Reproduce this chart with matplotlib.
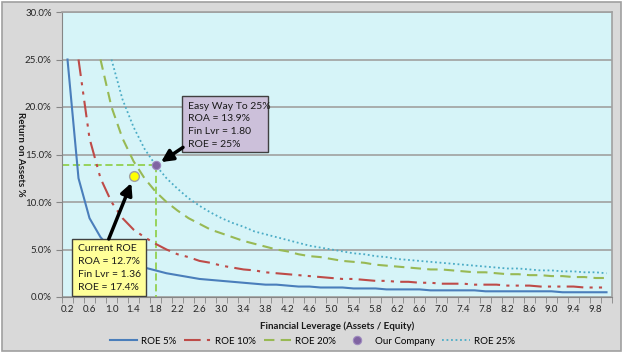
import numpy as np
import matplotlib
matplotlib.use("Agg")
from matplotlib import pyplot as plt
from matplotlib.patches import Rectangle

plt.rcParams['font.family'] = ['Lato', 'DejaVu Sans']

# leverage categories 0.2 .. 10.0
leverage = [round(0.2 * k, 1) for k in range(1, 51)]
tick_labels = ["%.1f" % v for v in leverage[::2]]

nan = np.nan
roe5 = [25.0, 12.5, 8.3, 6.3, 5.0, 4.2, 3.6, 3.1, 2.8, 2.5,
        2.3, 2.1, 1.9, 1.8, 1.7, 1.6, 1.5, 1.4, 1.3, 1.3,
        1.2, 1.1, 1.1, 1.0, 1.0, 1.0, 0.9, 0.9, 0.9, 0.8,
        0.8, 0.8, 0.8, 0.7, 0.7, 0.7, 0.7, 0.7, 0.6, 0.6,
        0.6, 0.6, 0.6, 0.6, 0.6, 0.5, 0.5, 0.5, 0.5, 0.5]
roe10 = [nan, 25.0, 16.7, 12.5, 10.0, 8.3, 7.1, 6.3, 5.6, 5.0,
         4.5, 4.2, 3.8, 3.6, 3.3, 3.1, 2.9, 2.8, 2.6, 2.5,
         2.4, 2.3, 2.2, 2.1, 2.0, 1.9, 1.9, 1.8, 1.7, 1.7,
         1.6, 1.6, 1.5, 1.5, 1.4, 1.4, 1.4, 1.3, 1.3, 1.3,
         1.2, 1.2, 1.2, 1.1, 1.1, 1.1, 1.1, 1.0, 1.0, 1.0]
roe20 = [nan, nan, nan, 25.0, 20.0, 16.7, 14.3, 12.5, 11.1, 10.0,
         9.1, 8.3, 7.7, 7.1, 6.7, 6.3, 5.9, 5.6, 5.3, 5.0,
         4.8, 4.5, 4.3, 4.2, 4.0, 3.8, 3.7, 3.6, 3.4, 3.3,
         3.2, 3.1, 3.0, 2.9, 2.9, 2.8, 2.7, 2.6, 2.6, 2.5,
         2.4, 2.4, 2.3, 2.3, 2.2, 2.2, 2.1, 2.1, 2.0, 2.0]
roe25 = [nan, nan, nan, nan, 25.0, 20.8, 17.9, 15.6, 13.9, 12.5,
         11.4, 10.4, 9.6, 8.9, 8.3, 7.8, 7.4, 6.9, 6.6, 6.3,
         6.0, 5.7, 5.4, 5.2, 5.0, 4.8, 4.6, 4.5, 4.3, 4.2,
         4.0, 3.9, 3.8, 3.7, 3.6, 3.5, 3.4, 3.3, 3.2, 3.1,
         3.0, 3.0, 2.9, 2.8, 2.8, 2.7, 2.7, 2.6, 2.6, 2.5]

our_lev, our_roa = 1.8, 13.9
cur_lev, cur_roa, cur_roe = 1.36, 12.7, 17.4

def pos(lev):
    # category axis position for a leverage value
    return lev / 0.2 - 1

x = np.arange(len(leverage))

fig = plt.figure(figsize=(6.24, 3.55), dpi=100)
fig.patches.append(Rectangle((2 / 624, 4 / 355), 619 / 624, 349 / 355,
                             transform=fig.transFigure, facecolor="#D9D9D9",
                             edgecolor="#A0A0A0", lw=1.2, zorder=-5))
ax = fig.add_axes([62 / 624, 58 / 355, 550 / 624, 285 / 355])
ax.set_facecolor("#D6F4F8")

ax.plot(x, roe5, color="#4A7EBB", lw=1.5, label="ROE 5%", zorder=3)
ax.plot(x, roe10, color="#BE4B48", lw=1.5, dashes=(8, 3, 1.5, 3, 1.5, 3),
        label="ROE 10%", zorder=3)
ax.plot(x, roe20, color="#98B954", lw=1.5, dashes=(5, 3), label="ROE 20%", zorder=3)

# reference lines to our company point
ax.plot([-0.5, pos(our_lev)], [our_roa, our_roa], color="#92D050", lw=1.3,
        dashes=(4, 2), zorder=2)
ax.plot([pos(our_lev), pos(our_lev)], [our_roa, 0], color="#92D050", lw=1.3,
        dashes=(4, 2), zorder=2)

ax.plot([pos(our_lev)], [our_roa], "o", color="#8064A2", ms=6, mec="#9F8BC0",
        mew=0.8, ls="none", label="Our Company", zorder=5)
ax.plot(x, roe25, color="#4BACC6", lw=1.3, ls=(0, (1, 1.5)), label="ROE 25%", zorder=3)
ax.plot([pos(1.4)], [cur_roa], "o", color="#FFFF00", ms=7, mec="#A0A0A0",
        mew=1, zorder=5)

ax.set_xlim(-0.5, len(leverage) - 0.5)
ax.set_ylim(0, 30)
ax.set_yticks(np.arange(0, 31, 5))
ax.set_yticklabels(["%.1f%%" % v for v in np.arange(0, 31, 5)])
ax.set_xticks(x[::2])
ax.set_xticklabels(tick_labels)
ax.set_xticks(np.arange(-0.5, len(leverage)), minor=True)
ax.tick_params(axis="x", which="major", length=0, labelsize=7, pad=6, colors="#262626")
ax.tick_params(axis="x", which="minor", length=4, color="#868686", direction="out")
ax.tick_params(axis="y", length=4, color="#868686", labelsize=7, colors="#262626")
ax.grid(axis="y", color="#A0A0A0", lw=1.2)
ax.set_axisbelow(True)
for s in ["top", "right"]:
    ax.spines[s].set_color("#A0A0A0")
    ax.spines[s].set_linewidth(1.2)
for s in ["left", "bottom"]:
    ax.spines[s].set_color("#868686")

ax.set_ylabel("Return on Assets %", fontsize=7, fontweight="bold", rotation=-90,
              va="center", ha="center", color="#1a1a1a")
ax.yaxis.set_label_coords(-0.075, 0.5)
ax.set_xlabel("Financial Leverage (Assets / Equity)", fontsize=7, fontweight="bold",
              labelpad=5, color="#1a1a1a")

# annotation boxes
def callout(left, top, w, h, fc, lines):
    ax.add_patch(Rectangle((left, top - h), w, h, transform=ax.transAxes,
                           facecolor=fc, edgecolor="#404040", lw=1, zorder=6))
    for i, t in enumerate(lines):
        ax.text(left + 0.012, top - 0.035 - i * 0.045, t, transform=ax.transAxes,
                fontsize=7.5, va="center", ha="left", color="#1a1a1a", zorder=7)

callout(0.218, 0.705, 0.157, 0.196, "#CCC0DA",
        ["Easy Way To 25%", "ROA = %.1f%%" % our_roa, "Fin Lvr = %.2f" % our_lev,
         "ROE = 25%"])
callout(0.018, 0.2035, 0.135, 0.200, "#FFFF99",
        ["Current ROE", "ROA = %.1f%%" % cur_roa, "Fin Lvr = %.2f" % cur_lev,
         "ROE = %.1f%%" % cur_roe])

arrow = dict(arrowstyle="-|>,head_length=0.7,head_width=0.35", lw=2.5,
             color="black", shrinkA=0, shrinkB=0)
ax.annotate("", xy=(pos(our_lev) + 0.5, our_roa + 0.3), xytext=(0.22, 0.525),
            textcoords="axes fraction", arrowprops=arrow, zorder=8)
ax.annotate("", xy=(pos(1.4) - 0.2, cur_roa - 0.7), xytext=(0.085, 0.2035),
            textcoords="axes fraction", arrowprops=arrow, zorder=8)

ax.legend(loc="center", bbox_to_anchor=(0.455, -0.155), ncol=5, frameon=False,
          fontsize=7, handlelength=2.8, columnspacing=0.8, handletextpad=0.4)

fig.savefig("out.png", dpi=100)
